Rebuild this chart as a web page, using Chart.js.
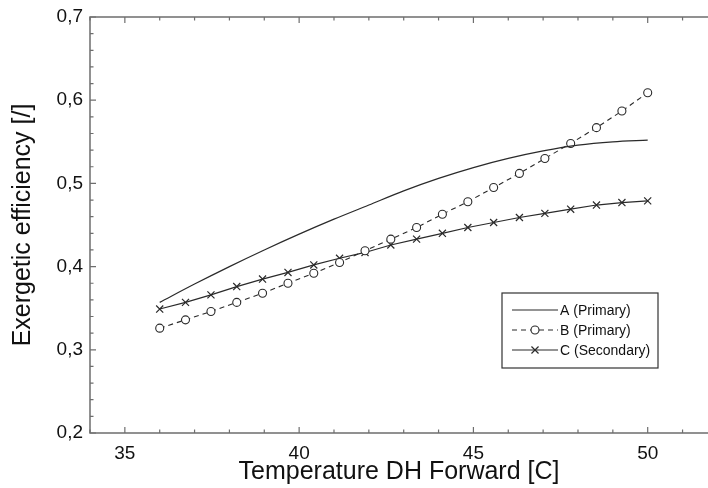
<!DOCTYPE html>
<html>
<head>
<meta charset="utf-8">
<script src="https://cdn.jsdelivr.net/npm/chart.js@4.4.1/dist/chart.umd.min.js"></script>
<style>
  html, body { margin: 0; padding: 0; background: #fff; }
  #wrap { width: 708px; height: 488px; }
</style>
</head>
<body>
<div id="wrap"><canvas id="myChart" width="708" height="488"></canvas></div>
<script>
// values
const tempA = [36, 37, 38, 39, 40, 41, 42, 43, 44, 45, 46, 47, 48, 49, 50];
const effA = [0.357, 0.379, 0.400, 0.420, 0.439, 0.457, 0.474, 0.491, 0.506, 0.519, 0.530, 0.539, 0.546, 0.550, 0.552];

const tempBC = [36, 36.74, 37.47, 38.21, 38.95, 39.68, 40.42, 41.16, 41.89, 42.63,
                43.37, 44.11, 44.84, 45.58, 46.32, 47.05, 47.79, 48.53, 49.26, 50];
const effB = [0.326, 0.336, 0.346, 0.357, 0.368, 0.380, 0.392, 0.405, 0.419, 0.433,
              0.447, 0.463, 0.478, 0.495, 0.512, 0.530, 0.548, 0.567, 0.587, 0.609];
const effC = [0.349, 0.357, 0.366, 0.376, 0.385, 0.393, 0.402, 0.410, 0.417, 0.426,
              0.433, 0.440, 0.447, 0.453, 0.459, 0.464, 0.469, 0.474, 0.477, 0.479];

const seriesNames = ["A (Primary)", "B (Primary)", "C (Secondary)"];
const xTitle = "Temperature DH Forward [C]";
const yTitle = "Exergetic efficiency [/]";

const FONT = "'Liberation Sans', Arial, sans-serif";
const lineCol = "#2a2a2a";
const axisCol = "#6e6e6e";

function pts(xs, ys) {
  let out = [];
  for (let i = 0; i < xs.length; i++) {
    out.push({ x: xs[i], y: ys[i] });
  }
  return out;
}

// frame + inward ticks (bottom, top and left)
const innerTicks = {
  id: "innerTicks",
  afterDraw(chart) {
    const ctx = chart.ctx;
    const a = chart.chartArea;
    const x = chart.scales.x;
    const y = chart.scales.y;
    ctx.save();
    ctx.strokeStyle = axisCol;
    ctx.lineWidth = 1.5;
    ctx.beginPath();
    ctx.moveTo(a.right, a.top);
    ctx.lineTo(a.left, a.top);
    ctx.lineTo(a.left, a.bottom);
    ctx.lineTo(a.right, a.bottom);
    ctx.stroke();

    ctx.lineWidth = 1.2;
    ctx.beginPath();
    x.ticks.forEach((t) => {
      const px = x.getPixelForValue(t.value);
      const len = Math.round(t.value) % 5 === 0 ? 6 : 3.5;
      ctx.moveTo(px, a.bottom);
      ctx.lineTo(px, a.bottom - len);
      ctx.moveTo(px, a.top);
      ctx.lineTo(px, a.top + len);
    });
    y.ticks.forEach((t) => {
      const py = y.getPixelForValue(t.value);
      const len = Math.round(t.value * 100) % 10 === 0 ? 6 : 3.5;
      ctx.moveTo(a.left, py);
      ctx.lineTo(a.left + len, py);
    });
    ctx.stroke();
    ctx.restore();
  },
};

// boxed legend inside the plot
const boxLegend = {
  id: "boxLegend",
  afterDraw(chart) {
    const ctx = chart.ctx;
    const a = chart.chartArea;
    const bx = a.left + 412, by = a.top + 276, bw = 156, bh = 75;
    ctx.save();
    ctx.fillStyle = "#fff";
    ctx.fillRect(bx, by, bw, bh);
    ctx.strokeStyle = "#333";
    ctx.lineWidth = 1.2;
    ctx.strokeRect(bx, by, bw, bh);
    ctx.font = "14px " + FONT;
    ctx.textBaseline = "middle";
    chart.data.datasets.forEach((ds, i) => {
      const ly = by + 17 + i * 20;
      const x0 = bx + 10, x1 = bx + 56;
      ctx.strokeStyle = ds.borderColor;
      ctx.lineWidth = ds.borderWidth;
      ctx.setLineDash(ds.borderDash || []);
      ctx.beginPath();
      ctx.moveTo(x0, ly);
      ctx.lineTo(x1, ly);
      ctx.stroke();
      ctx.setLineDash([]);
      if (ds.pointRadius > 0) {
        ctx.fillStyle = ds.pointBackgroundColor;
        ctx.strokeStyle = ds.pointBorderColor;
        ctx.lineWidth = ds.pointBorderWidth;
        Chart.helpers.drawPoint(ctx, {
          pointStyle: ds.pointStyle,
          radius: ds.pointRadius,
          borderWidth: ds.pointBorderWidth,
          rotation: 0,
        }, (x0 + x1) / 2, ly);
      }
      ctx.fillStyle = "#111";
      ctx.fillText(ds.label, x1 + 2, ly + 1);
    });
    ctx.restore();
  },
};

const data = {
  datasets: [
    {
      label: seriesNames[0],
      data: pts(tempA, effA),
      borderColor: lineCol,
      borderWidth: 1.2,
      pointRadius: 0,
      cubicInterpolationMode: "monotone",
    },
    {
      label: seriesNames[1],
      data: pts(tempBC, effB),
      borderColor: lineCol,
      borderWidth: 1.1,
      borderDash: [5, 4],
      pointStyle: "circle",
      pointRadius: 4,
      pointBackgroundColor: "#fff",
      pointBorderColor: lineCol,
      pointBorderWidth: 1.1,
    },
    {
      label: seriesNames[2],
      data: pts(tempBC, effC),
      borderColor: lineCol,
      borderWidth: 1.2,
      pointStyle: "crossRot",
      pointRadius: 5,
      pointBackgroundColor: lineCol,
      pointBorderColor: lineCol,
      pointBorderWidth: 1.2,
    },
  ],
};

const config = {
  type: "line",
  data: data,
  options: {
    responsive: false,
    animation: false,
    layout: { autoPadding: false, padding: { top: 17, right: 0, bottom: 0, left: 0 } },
    plugins: { legend: { display: false }, tooltip: { enabled: false } },
    scales: {
      x: {
        type: "linear",
        min: 34,
        max: 51.73,
        afterFit: (s) => { s.height = 55; },
        grid: { display: false },
        border: { display: false },
        ticks: {
          stepSize: 1,
          includeBounds: false,
          autoSkip: false,
          maxRotation: 0,
          padding: 1,
          color: "#111",
          font: { family: FONT, size: 19 },
          callback: (v) => (Math.round(v) % 5 === 0 ? "" + Math.round(v) : ""),
        },
        title: {
          display: true,
          text: xTitle,
          color: "#111",
          font: { family: FONT, size: 25 },
          padding: { top: 0, bottom: 1 },
        },
      },
      y: {
        min: 0.2,
        max: 0.7,
        afterFit: (s) => { s.width = 90; },
        grid: { display: false },
        border: { display: false },
        ticks: {
          stepSize: 0.02,
          autoSkip: false,
          padding: -1,
          color: "#111",
          font: { family: FONT, size: 19 },
          callback: (v) => {
            const r = Math.round(v * 100);
            return r % 10 === 0 ? (r / 100).toFixed(1).replace(".", ",") : "";
          },
        },
        title: {
          display: true,
          text: yTitle,
          color: "#111",
          font: { family: FONT, size: 25 },
          padding: { top: 8, bottom: 0 },
        },
      },
    },
  },
  plugins: [innerTicks, boxLegend],
};

const myChart = new Chart(document.getElementById("myChart"), config);
</script>
</body>
</html>
